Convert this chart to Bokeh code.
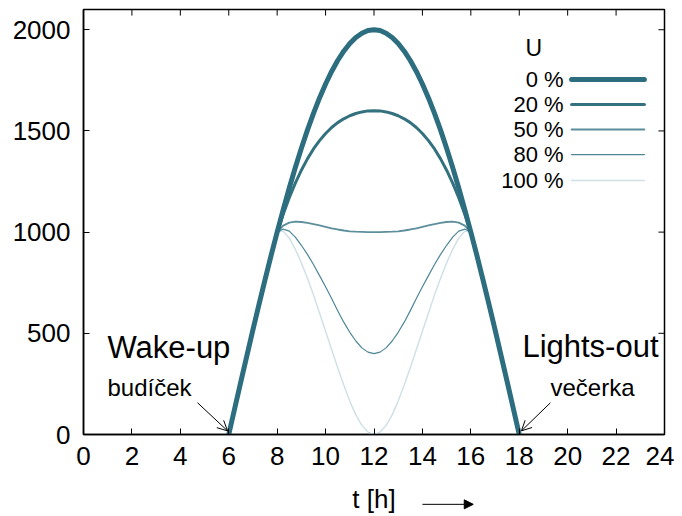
from bokeh.plotting import figure
from bokeh.layouts import column
from bokeh.models import Range1d, FixedTicker, Label, Arrow, OpenHead, NormalHead
from bokeh.embed import file_html
from bokeh.resources import INLINE

# ---- data ----
t = [6.0, 6.25, 6.5, 6.75, 7.0, 7.25, 7.5, 7.75, 8.0, 8.25, 8.5, 8.75, 9.0, 9.25, 9.5, 9.75,
     10.0, 10.25, 10.5, 10.75, 11.0, 11.25, 11.5, 11.75, 12.0, 12.25, 12.5, 12.75, 13.0,
     13.25, 13.5, 13.75, 14.0, 14.25, 14.5, 14.75, 15.0, 15.25, 15.5, 15.75, 16.0, 16.25,
     16.5, 16.75, 17.0, 17.25, 17.5, 17.75, 18.0]
u0 = [0, 131, 261, 390, 518, 643, 765, 885, 1000, 1111, 1218, 1319, 1414, 1504, 1587, 1663,
      1732, 1794, 1848, 1894, 1932, 1962, 1983, 1996, 2000, 1996, 1983, 1962, 1932,
      1894, 1848, 1794, 1732, 1663, 1587, 1504, 1414, 1319, 1218, 1111, 1000, 885,
      765, 643, 518, 390, 261, 131, 0]
u20 = [0, 131, 261, 390, 518, 643, 765, 885, 1000, 1089, 1170, 1242, 1306, 1362, 1411, 1452,
       1487, 1517, 1541, 1560, 1575, 1586, 1594, 1599, 1600, 1599, 1594, 1586, 1575,
       1560, 1541, 1517, 1487, 1452, 1411, 1362, 1306, 1242, 1170, 1089, 1000, 885,
       765, 643, 518, 390, 261, 131, 0]
u50 = [0, 131, 261, 390, 518, 643, 765, 885, 1000, 1032, 1047, 1052, 1050, 1046, 1040, 1033,
       1026, 1019, 1013, 1008, 1004, 1002, 1001, 1000, 1000, 1000, 1001, 1002, 1004,
       1008, 1013, 1019, 1026, 1033, 1040, 1046, 1050, 1052, 1047, 1032, 1000, 885,
       765, 643, 518, 390, 261, 131, 0]
u80 = [0, 131, 261, 390, 518, 643, 765, 885, 1000, 1015, 1005, 975, 935, 890, 840, 785,
       730, 672, 612, 555, 505, 462, 428, 407, 400, 407, 428, 462, 505,
       555, 612, 672, 730, 785, 840, 890, 935, 975, 1005, 1015, 1000, 885,
       765, 643, 518, 390, 261, 131, 0]
u100 = [0, 131, 261, 390, 518, 643, 765, 885, 1000, 1005, 970, 915, 848, 772, 690, 600,
        510, 420, 330, 245, 165, 97, 45, 12, 0, 12, 45, 97, 165,
        245, 330, 420, 510, 600, 690, 772, 848, 915, 970, 1005, 1000, 885,
        765, 643, 518, 390, 261, 131, 0]

series_labels = ["0 %", "20 %", "50 %", "80 %", "100 %"]
x_ticks = [0, 2, 4, 6, 8, 10, 12, 14, 16, 18, 20, 22, 24]
y_ticks = [0, 500, 1000, 1500, 2000]

FONT = "'Liberation Sans', Arial, sans-serif"
colors = ["#2c6e7f", "#34717f", "#5d8e9b", "#4f8797", "#cfe0e4"]
widths = [5, 3, 1.8, 1.2, 1.4]
series = [u0, u20, u50, u80, u100]

X_MAX, Y_MAX = 24, 2100

p = figure(frame_width=581, frame_height=425, output_backend="svg", toolbar_location=None,
           x_range=Range1d(0, X_MAX), y_range=Range1d(0, Y_MAX),
           min_border_left=83, min_border_right=10, min_border_top=9, min_border_bottom=44)
p.grid.visible = False
p.outline_line_color = "black"
p.outline_line_width = 1.5

for ax in (p.xaxis[0], p.yaxis[0]):
    ax.major_tick_in = 6
    ax.major_tick_out = 0
    ax.minor_tick_line_color = None
    ax.axis_line_color = "black"
    ax.axis_line_width = 1.5
    ax.major_tick_line_width = 1
    ax.major_label_text_font = FONT
    ax.major_label_text_font_size = "26px"
    ax.major_label_text_color = "black"
p.xaxis.ticker = FixedTicker(ticks=x_ticks)
p.yaxis.ticker = FixedTicker(ticks=y_ticks)
p.xaxis.major_label_standoff = 12
p.yaxis.major_label_standoff = 13

# mirror ticks on the top and right edges (from the same tick lists)
p.segment(x0=x_ticks, y0=[Y_MAX] * len(x_ticks), x1=x_ticks, y1=[Y_MAX - 30] * len(x_ticks),
          line_color="black", line_width=1)
p.segment(x0=[X_MAX] * len(y_ticks), y0=y_ticks, x1=[X_MAX - 0.25] * len(y_ticks), y1=y_ticks,
          line_color="black", line_width=1)

# curves, lightest first
for ys, c, w in reversed(list(zip(series, colors, widths))):
    p.line(t, ys, line_color=c, line_width=w, line_join="round", line_cap="round")

# manual legend (text left, sample line right)
p.add_layout(Label(x=18.6, y=1908, text="U", text_font=FONT, text_font_size="23px",
                   text_color="black", text_align="center", text_baseline="middle"))
leg_y = [1754, 1631, 1507, 1383, 1255]
for lab, c, w, ly in zip(series_labels, colors, widths, leg_y):
    p.add_layout(Label(x=19.83, y=ly, text=lab, text_font=FONT, text_font_size="22px",
                       text_color="black", text_align="right", text_baseline="middle"))
    p.line([20.16, 23.17], [ly, ly], line_color=c, line_width=w, line_cap="round")

# annotations
p.add_layout(Label(x=0.99, y=430, text="Wake-up", text_font=FONT, text_font_size="31px",
                   text_color="black", text_baseline="alphabetic"))
p.add_layout(Label(x=0.99, y=232, text="budíček", text_font=FONT, text_font_size="24px",
                   text_color="black", text_baseline="alphabetic"))
p.add_layout(Label(x=18.13, y=435, text="Lights-out", text_font=FONT, text_font_size="31px",
                   text_color="black", text_baseline="alphabetic"))
p.add_layout(Label(x=19.29, y=232, text="večerka", text_font=FONT, text_font_size="24px",
                   text_color="black", text_baseline="alphabetic"))
p.add_layout(Arrow(x_start=4.71, y_start=157, x_end=5.95, y_end=18, line_width=1,
                   end=OpenHead(size=10, line_width=1)))
p.add_layout(Arrow(x_start=19.29, y_start=157, x_end=18.09, y_end=18, line_width=1,
                   end=OpenHead(size=10, line_width=1)))

# x-axis title with its arrow, in a strip below the chart sharing the x scale
q = figure(frame_width=581, frame_height=38, output_backend="svg", toolbar_location=None,
           x_range=p.x_range, y_range=Range1d(0, 1),
           min_border_left=83, min_border_right=10, min_border_top=0, min_border_bottom=0)
q.axis.visible = False
q.grid.visible = False
q.outline_line_color = None
q.add_layout(Label(x=12.0, y=0.47, text="t [h]", text_font=FONT, text_font_size="26px",
                   text_color="black", text_align="center", text_baseline="middle"))
q.add_layout(Arrow(x_start=14.0, y_start=0.32, x_end=16.1, y_end=0.32, line_width=1,
                   end=NormalHead(size=9, line_width=1, fill_color="black")))

layout = column(p, q, spacing=0)
open("out.html", "w").write(file_html(layout, INLINE))
